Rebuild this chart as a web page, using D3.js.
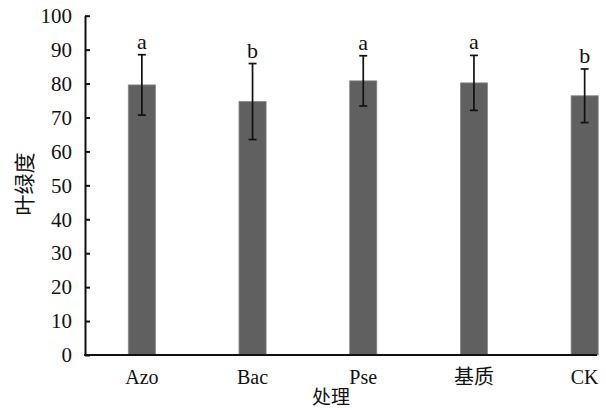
<!DOCTYPE html>
<html>
<head>
<meta charset="utf-8">
<script src="https://cdn.jsdelivr.net/npm/d3@7"></script>
<style>
  html, body { margin: 0; padding: 0; background: #fff; }
  svg { display: block; }
</style>
</head>
<body>
<svg id="chart" width="606" height="410"></svg>
<script>
// 叶绿度 by treatment: mean, standard deviation and significance letter
const categories = ["Azo", "Bac", "Pse", "基质", "CK"];
const means = [79.6, 74.7, 80.8, 80.2, 76.4];
const errors = [8.9, 11.2, 7.4, 8.1, 7.9];
const letters = ["a", "b", "a", "a", "b"];
const yTicks = [0, 10, 20, 30, 40, 50, 60, 70, 80, 90, 100];

const svg = d3.select("#chart");
const serif = "'Liberation Serif', 'DejaVu Serif', serif";
const cjk = "'Noto Sans CJK SC', sans-serif";

const x = d3.scaleBand()
  .domain(categories)
  .range([86.5, 640])
  .paddingInner(0.755)
  .paddingOuter(0.3775);

const y = d3.scaleLinear().domain([0, 100]).range([355, 15.7]);

// bars
svg.append("g")
  .selectAll("rect")
  .data(categories)
  .join("rect")
  .attr("x", d => x(d))
  .attr("width", x.bandwidth())
  .attr("y", (d, i) => y(means[i]))
  .attr("height", (d, i) => y(0) - y(means[i]))
  .attr("fill", "#606060")
  .attr("stroke", "#8a8a8a")
  .attr("stroke-width", 0.8);

// error bars
const eb = svg.append("g").attr("stroke", "#111").attr("stroke-width", 1.7);
categories.forEach((c, i) => {
  const cx = x(c) + x.bandwidth() / 2;
  const hi = y(means[i] + errors[i]);
  const lo = y(means[i] - errors[i]);
  eb.append("line").attr("x1", cx).attr("x2", cx).attr("y1", hi).attr("y2", lo);
  eb.append("line").attr("x1", cx - 4).attr("x2", cx + 4).attr("y1", hi).attr("y2", hi);
  eb.append("line").attr("x1", cx - 4).attr("x2", cx + 4).attr("y1", lo).attr("y2", lo);
});

// significance letters
svg.append("g")
  .selectAll("text")
  .data(categories)
  .join("text")
  .attr("x", d => x(d) + x.bandwidth() / 2)
  .attr("y", (d, i) => y(means[i] + errors[i]) - 6)
  .attr("text-anchor", "middle")
  .attr("font-family", serif)
  .attr("font-size", 22)
  .attr("fill", "#111")
  .text((d, i) => letters[i]);

// y axis
const yAxis = svg.append("g")
  .attr("transform", "translate(85,0)")
  .call(d3.axisLeft(y).tickValues(yTicks).tickSizeInner(-5).tickSizeOuter(0).tickPadding(13));
yAxis.select(".domain").attr("stroke", "#111").attr("stroke-width", 2);
yAxis.selectAll(".tick line").attr("stroke", "#111").attr("stroke-width", 2);
yAxis.selectAll(".tick text")
  .attr("font-family", serif)
  .attr("font-size", 21)
  .attr("fill", "#111");

// x axis baseline and category labels
const xAxis = svg.append("g")
  .attr("transform", "translate(0,355)")
  .call(d3.axisBottom(x).tickSize(0).tickPadding(15));
xAxis.select(".domain").remove();
xAxis.selectAll(".tick text")
  .attr("font-family", d => /[\u4e00-\u9fff]/.test(d) ? cjk : serif)
  .attr("font-size", 20)
  .attr("fill", "#111");
svg.append("line")
  .attr("x1", 84).attr("x2", 597)
  .attr("y1", y(0)).attr("y2", y(0))
  .attr("stroke", "#111").attr("stroke-width", 2);

// axis titles
svg.append("text")
  .attr("x", 331).attr("y", 404)
  .attr("text-anchor", "middle")
  .attr("font-family", cjk)
  .attr("font-size", 19)
  .attr("fill", "#111")
  .text("处理");

svg.append("text")
  .attr("transform", "translate(32,184) rotate(-90)")
  .attr("text-anchor", "middle")
  .attr("font-family", cjk)
  .attr("font-size", 21)
  .attr("fill", "#111")
  .text("叶绿度");
</script>
</body>
</html>
